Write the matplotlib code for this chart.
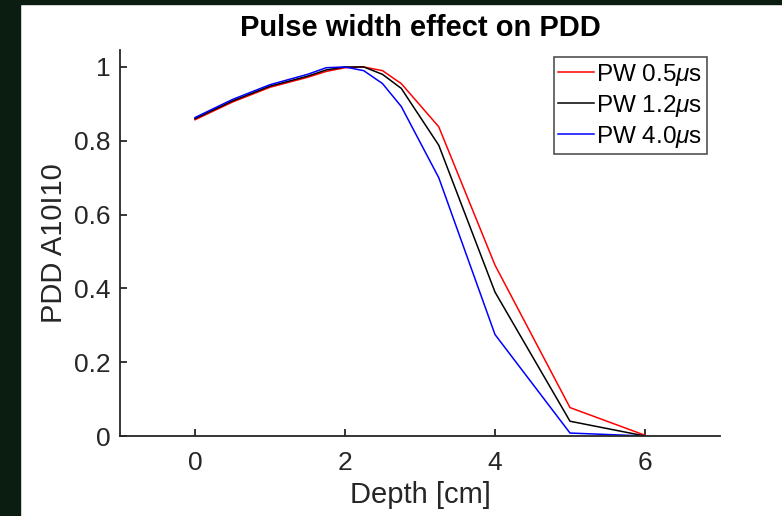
import matplotlib
matplotlib.use("Agg")
import matplotlib.pyplot as plt

depth = [0, 0.5, 1, 1.5, 1.75, 2, 2.25, 2.5, 2.75, 3.25, 4, 5, 6]
pdd_05 = [0.857, 0.905, 0.945, 0.972, 0.988, 0.998, 1.0, 0.99, 0.955, 0.838, 0.463, 0.077, 0.002]
pdd_12 = [0.860, 0.908, 0.948, 0.975, 0.992, 1.0, 1.0, 0.98, 0.942, 0.788, 0.390, 0.040, 0.0]
pdd_40 = [0.863, 0.912, 0.952, 0.980, 0.998, 1.0, 0.99, 0.955, 0.893, 0.700, 0.275, 0.008, 0.0]
labels = [r"PW 0.5$\mu$s", r"PW 1.2$\mu$s", r"PW 4.0$\mu$s"]
colors = ["#ff0000", "#000000", "#0000ff"]
xticks = [0, 2, 4, 6]
yticks = [0, 0.2, 0.4, 0.6, 0.8, 1]

plt.rcParams["font.family"] = ["Liberation Sans", "DejaVu Sans"]
plt.rcParams["mathtext.fontset"] = "custom"
plt.rcParams["mathtext.rm"] = "Liberation Sans"
plt.rcParams["mathtext.it"] = "Liberation Sans:italic"

W, H = 782, 516
fig = plt.figure(figsize=(W / 100, H / 100), dpi=100)
fig.patch.set_facecolor("white")
# dark frame
fig.patches.append(plt.Rectangle((0, 0), 20 / W, 1, transform=fig.transFigure,
                                 color="#0b1d10", zorder=0))
fig.patches.append(plt.Rectangle((0, 1 - 4 / H), 1, 4 / H, transform=fig.transFigure,
                                 color="#0b1d10", zorder=0))

ax = fig.add_axes([120 / W, 1 - 436 / H, 600 / W, 386 / H])
for y, lab, c in zip([pdd_05, pdd_12, pdd_40], labels, colors):
    ax.plot(depth, y, color=c, lw=1.1, label=lab)

ax.set_xlim(-1, 7)
ax.set_ylim(0, 1.046)
ax.set_xticks(xticks)
ax.set_yticks(yticks)
ax.set_yticklabels(["0", "0.2", "0.4", "0.6", "0.8", "1"])
for s in ["top", "right"]:
    ax.spines[s].set_visible(False)
for s in ["left", "bottom"]:
    ax.spines[s].set_color("#262626")
    ax.spines[s].set_linewidth(1.3)
ax.tick_params(direction="in", length=5, width=1.3, color="#262626",
               labelsize=19, labelcolor="#262626")
ax.tick_params(axis="x", pad=11)
ax.tick_params(axis="y", pad=7)

ax.set_title("Pulse width effect on PDD", fontsize=21, fontweight="bold", pad=10)
ax.set_xlabel("Depth [cm]", fontsize=21, color="#262626", labelpad=4)
ax.set_ylabel("PDD A10I10", fontsize=21, color="#262626", labelpad=4)

leg = ax.legend(loc="upper right", bbox_to_anchor=((707 - 120) / 600, (436 - 57) / 386),
                fontsize=17.5, frameon=True, fancybox=False, handlelength=1.45,
                handletextpad=0.1, borderpad=0.2, labelspacing=0.2, borderaxespad=0)
leg.get_frame().set_edgecolor("#262626")
leg.get_frame().set_linewidth(1.2)

fig.savefig("out.png", dpi=100)
